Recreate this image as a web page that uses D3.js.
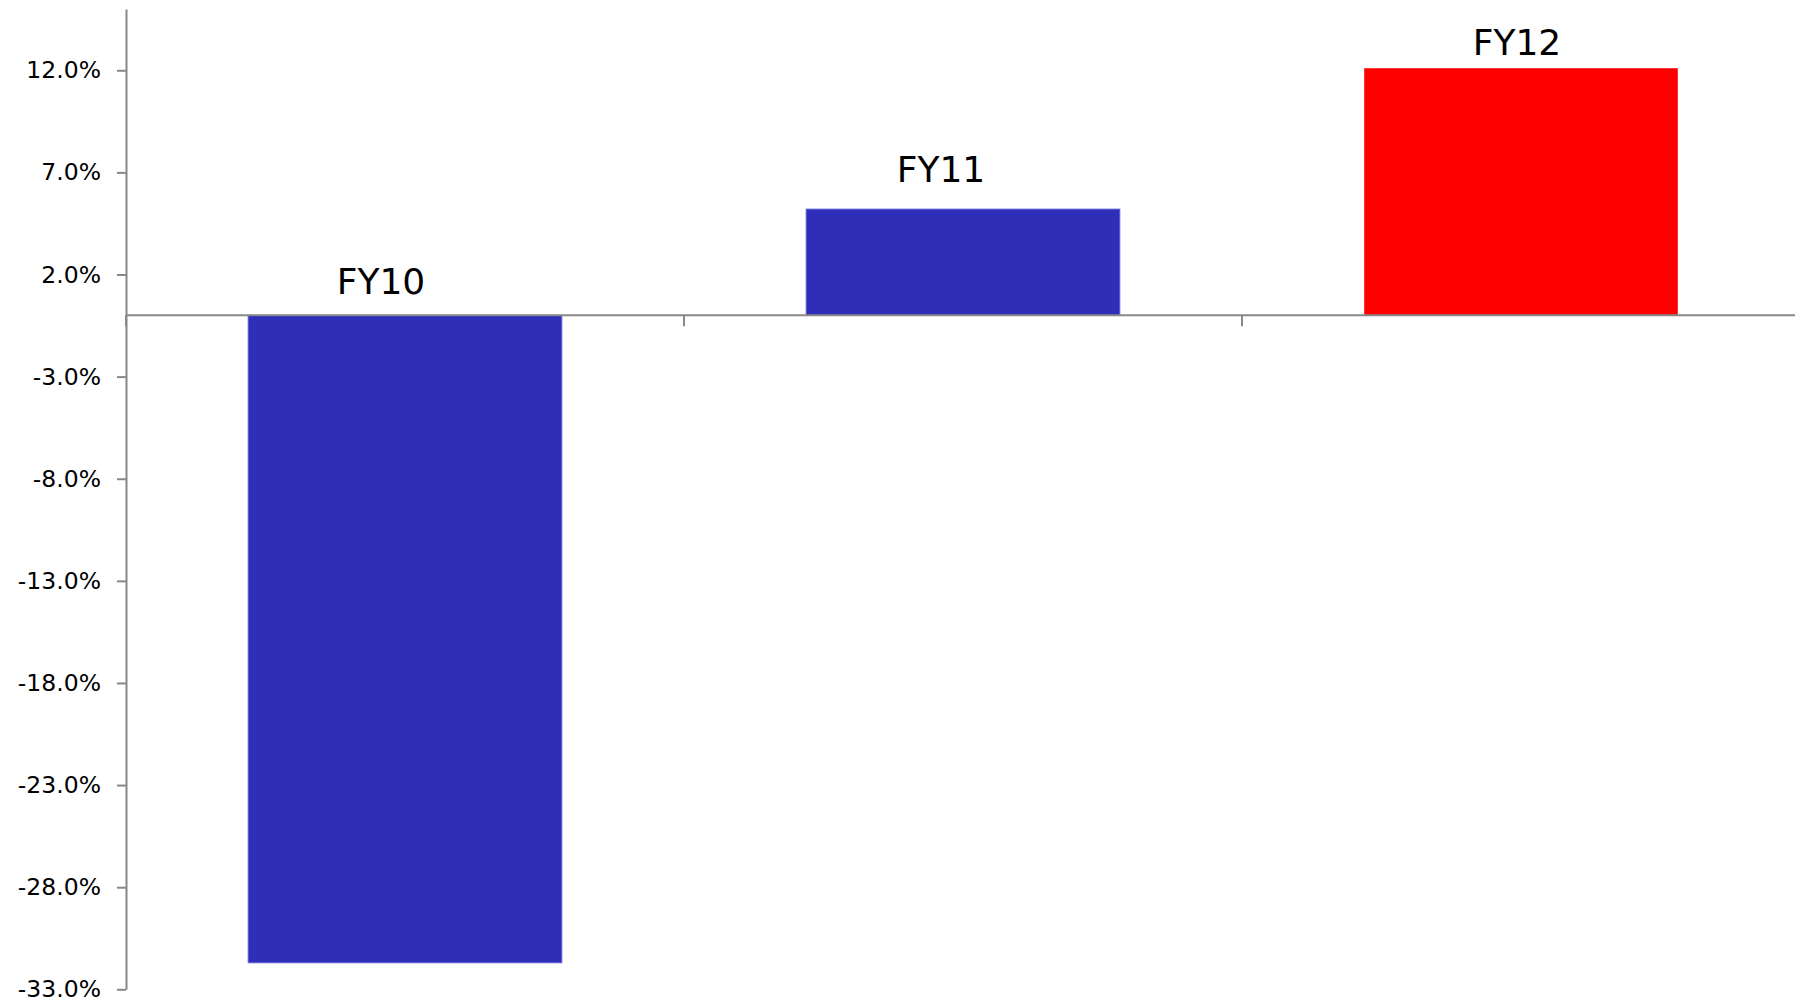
<!DOCTYPE html>
<html>
<head>
<meta charset="utf-8">
<script src="https://cdn.jsdelivr.net/npm/d3@7"></script>
<style>
  body { margin: 0; background: #fff; }
  svg { display: block; font-family: "DejaVu Sans", Verdana, sans-serif; }
</style>
</head>
<body>
<svg id="chart" width="1795" height="1004"></svg>
<script>
// ---------------- data ----------------
var years = ["FY10", "FY11", "FY12"];
var growth = [-31.7, 5.2, 12.1];
var barColors = ["#2e2eb8", "#2e2eb8", "#ff0000"];
var yTicks = [12, 7, 2, -3, -8, -13, -18, -23, -28, -33];

// label nudges (px) relative to bar centre / bar top, as placed in the original
var labelNudge = [[-24, -21], [-22, -27], [-4, -13]];

var data = years.map(function(d, i) { return { year: d, value: growth[i], color: barColors[i] }; });

// ---------------- layout ----------------
var plotLeft = 126, plotRight = 1800, plotTop = 9, plotBottom = 989.3;
var svg = d3.select("#chart");

var x = d3.scaleBand()
    .domain(years)
    .range([plotLeft, plotRight]);

var xBar = d3.scaleBand()
    .domain(years)
    .range([plotLeft, plotRight])
    .paddingInner(0.438)
    .paddingOuter(0.219);

var y = d3.scaleLinear()
    .domain([-33, 15])
    .range([plotBottom, plotTop]);

// plain hyphen for negatives, like the original
var fmt = d3.formatLocale({ decimal: ".", thousands: ",", grouping: [3], currency: ["$", ""], minus: "-" }).format(".1f");

// bars
svg.append("g").selectAll("rect")
    .data(data)
    .enter().append("rect")
    .attr("x", function(d) { return xBar(d.year); })
    .attr("width", xBar.bandwidth())
    .attr("y", function(d) { return y(Math.max(0, d.value)); })
    .attr("height", function(d) { return Math.abs(y(d.value) - y(0)); })
    .style("fill", function(d) { return d.color; })
    .style("stroke", function(d) { return d.color == "#ff0000" ? "none" : "#5a5ad8"; })
    .style("stroke-width", 1);

// y axis
var yAxis = d3.axisLeft(y)
    .tickValues(yTicks)
    .tickFormat(function(d) { return fmt(d) + "%"; })
    .tickSize(9)
    .tickSizeOuter(0)
    .tickPadding(16);

var gy = svg.append("g")
    .attr("transform", "translate(" + plotLeft + ",0)")
    .call(yAxis);
gy.select(".domain").style("stroke", "#888").style("stroke-width", 2);
gy.selectAll(".tick line").style("stroke", "#888").style("stroke-width", 2);
gy.selectAll(".tick text")
    .style("font-family", "'DejaVu Sans', Verdana, sans-serif")
    .style("font-size", "23.5px")
    .style("fill", "#000");

// x axis at zero, ticks at category boundaries
var zeroY = y(0);
svg.append("line")
    .attr("x1", plotLeft).attr("x2", plotRight)
    .attr("y1", zeroY).attr("y2", zeroY)
    .style("stroke", "#888").style("stroke-width", 2);

svg.append("g").selectAll("line")
    .data(years)
    .enter().append("line")
    .attr("x1", function(d) { return x(d); })
    .attr("x2", function(d) { return x(d); })
    .attr("y1", zeroY)
    .attr("y2", zeroY + 11)
    .style("stroke", "#888").style("stroke-width", 2);

// category labels above bars
svg.append("g").selectAll("text")
    .data(data)
    .enter().append("text")
    .attr("x", function(d, i) { return xBar(d.year) + xBar.bandwidth() / 2 + labelNudge[i][0]; })
    .attr("y", function(d, i) { return y(Math.max(0, d.value)) + labelNudge[i][1]; })
    .attr("text-anchor", "middle")
    .style("font-size", "36px")
    .style("fill", "#000")
    .text(function(d) { return d.year; });
</script>
</body>
</html>
